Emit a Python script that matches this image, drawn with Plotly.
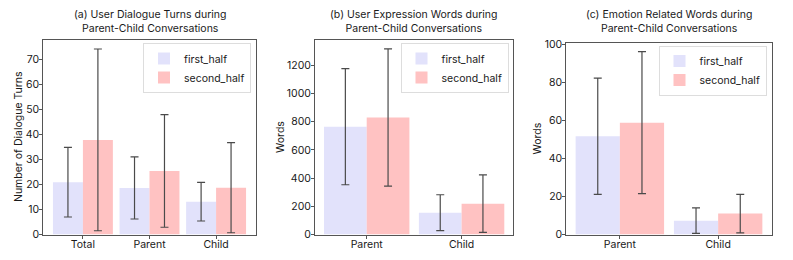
import plotly.graph_objects as go

W, H = 793, 260

# ---- data ----
cats_a = ["Total", "Parent", "Child"]
first_a = [20.9, 18.6, 13.1]
first_a_err = [13.9, 12.4, 7.7]
second_a = [37.8, 25.4, 18.7]
second_a_err = [36.3, 22.5, 18.0]

cats_b = ["Parent", "Child"]
first_b = [765, 155]
first_b_err = [412, 127]
second_b = [830, 219]
second_b_err = [487, 204]

cats_c = ["Parent", "Child"]
first_c = [51.7, 7.3]
first_c_err = [30.6, 6.7]
second_c = [58.9, 11.0]
second_c_err = [37.4, 10.1]

titles = ["(a) User Dialogue Turns during<br>Parent-Child Conversations",
          "(b) User Expression Words during<br>Parent-Child Conversations",
          "(c) Emotion Related Words during<br>Parent-Child Conversations"]
ytitles = ["Number of Dialogue Turns", "Words", "Words"]
names = ["first_half", "second_half"]

# ---- style ----
C1 = "#E2E2FB"
C2 = "#FFC2C2"
ECOL = "#4a4a4a"
FONT = "Inter"
TXT = "#1a1a1a"
AX = "#555555"

# pixel boxes (left, right, top, bottom)
boxes = [(43.3, 255.7, 39.5, 234.5), (315.0, 513.3, 39.5, 234.5), (566.3, 771.7, 42.7, 234.5)]
yranges = [[0, 77.9], [0, 1384], [0, 101]]
xranges = [[-0.595, 2.595], [-0.545, 1.545], [-0.545, 1.545]]
yticks = [list(range(0, 71, 10)), list(range(0, 1201, 200)), list(range(0, 101, 20))]
legend_pos = [(251.0, 43.0), (508.5, 43.0), (766.5, 45.5)]
title_x = [149.5, 414.2, 669.0]
ytitle_x = [18.0, 280.0, 538.0]

data = [(cats_a, first_a, first_a_err, second_a, second_a_err),
        (cats_b, first_b, first_b_err, second_b, second_b_err),
        (cats_c, first_c, first_c_err, second_c, second_c_err)]

fig = go.Figure()
layout = dict(width=W, height=H, margin=dict(l=0, r=0, t=0, b=0, autoexpand=False),
              paper_bgcolor="white", plot_bgcolor="white",
              barmode="group", bargap=0.1, bargroupgap=0.0,
              font=dict(family=FONT, size=10, color=TXT), annotations=[], showlegend=True)

for i, (cats, f, fe, s, se) in enumerate(data):
    sfx = "" if i == 0 else str(i + 1)
    xa, ya = "x" + sfx, "y" + sfx
    leg = "legend" + sfx
    for name, vals, errs, col in [(names[0], f, fe, C1), (names[1], s, se, C2)]:
        fig.add_trace(go.Bar(
            x=cats, y=vals, name=name, marker=dict(color=col, line=dict(width=0)),
            error_y=dict(type="data", array=errs, visible=True, color=ECOL, thickness=1.2, width=4),
            xaxis=xa, yaxis=ya, legend=leg, offsetgroup=name))
    l, r, t, b = boxes[i]
    layout["xaxis" + sfx] = dict(
        domain=[l / W, r / W], anchor=ya, range=xranges[i], showline=True, mirror=True,
        linecolor=AX, linewidth=1, ticks="outside", ticklen=3, tickcolor=AX,
        tickfont=dict(size=10.5, color=TXT), showgrid=False, zeroline=False, automargin=False,
        ticklabelstandoff=-3, fixedrange=True)
    layout["yaxis" + sfx] = dict(
        domain=[1 - b / H, 1 - t / H], anchor=xa, range=yranges[i], showline=True, mirror=True,
        linecolor=AX, linewidth=1, ticks="outside", ticklen=3, tickcolor=AX,
        tickvals=yticks[i], tickfont=dict(size=10.5, color=TXT), showgrid=False, zeroline=False,
        ticklabelstandoff=-2, automargin=False, fixedrange=True)
    lx, ly = legend_pos[i]
    layout[leg] = dict(x=lx / W, y=1 - ly / H, xanchor="right", yanchor="top",
                       bordercolor="#dddddd", borderwidth=1, bgcolor="rgba(255,255,255,0.8)",
                       font=dict(size=10.5, color=TXT), tracegroupgap=0, itemwidth=30)
    layout["annotations"].append(dict(
        text=titles[i], x=title_x[i] / W, y=1 - 21 / H, xref="paper", yref="paper",
        xanchor="center", yanchor="middle", showarrow=False,
        font=dict(size=10.5, color=TXT, family=FONT)))
    layout["annotations"].append(dict(
        text=ytitles[i], x=ytitle_x[i] / W, y=1 - ((t + b) / 2) / H, xref="paper", yref="paper",
        xanchor="center", yanchor="middle", showarrow=False, textangle=-90,
        font=dict(size=10.5, color=TXT, family=FONT)))

fig.update_layout(**layout)
fig.write_html("out.html", config={"displayModeBar": False},
               post_script="document.body.style.margin='0';document.body.style.padding='0';")
